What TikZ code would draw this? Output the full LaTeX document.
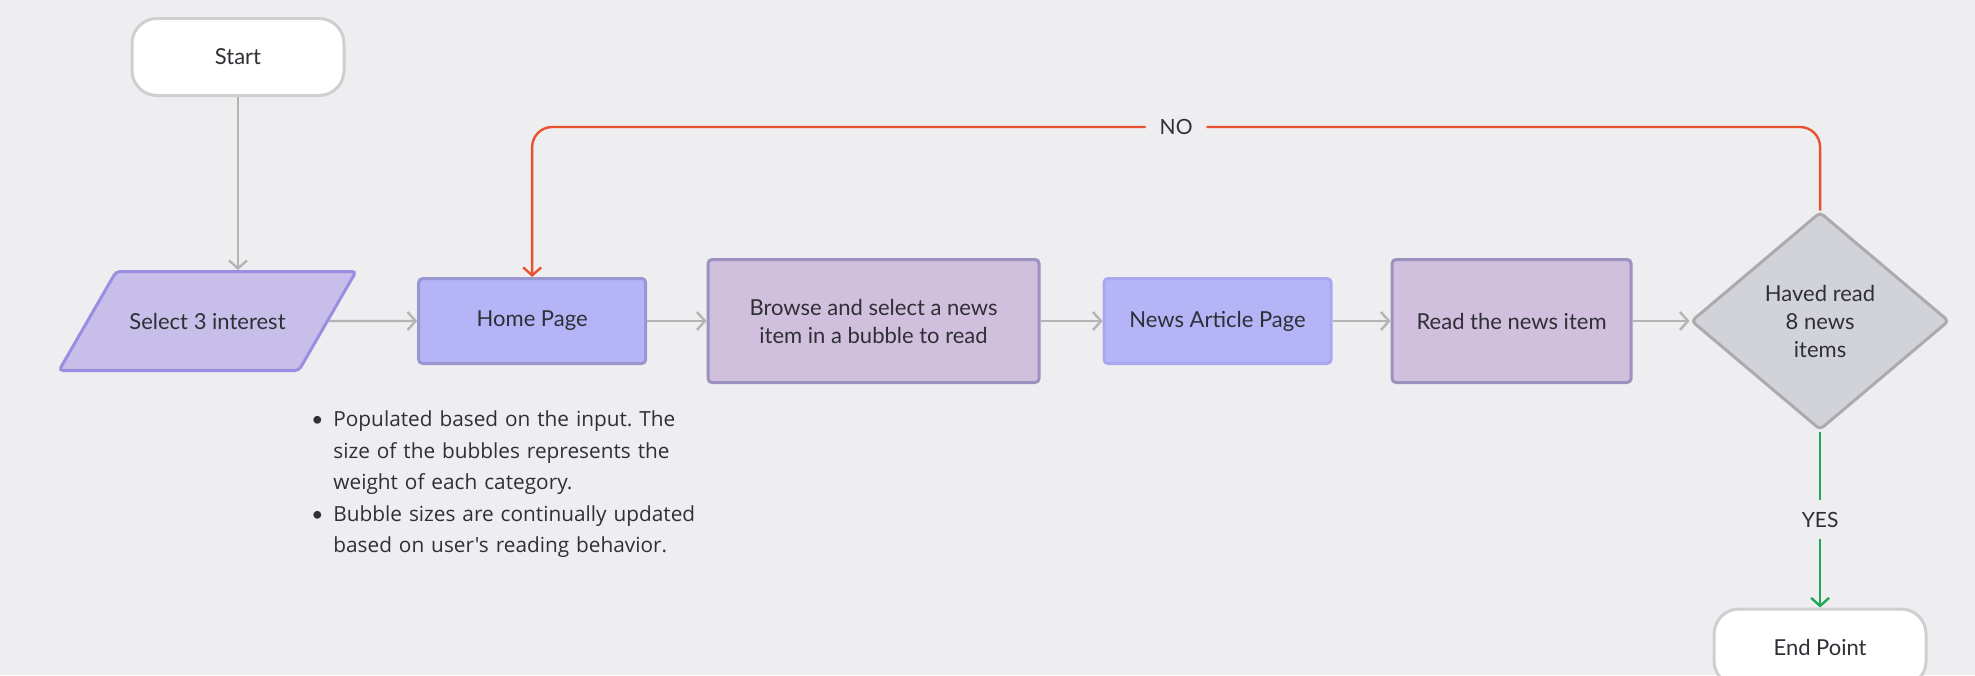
\documentclass[tikz,border=0pt]{standalone}
\usepackage{fontspec}
\setmainfont{Lato}
\newfontfamily\notefont{Open Sans}
\usepackage{enumitem}
\usetikzlibrary{positioning, shapes.geometric, arrows.meta}

\definecolor{bgcol}{HTML}{EEEEF1}
\definecolor{ink}{HTML}{2F2F36}
\definecolor{termline}{HTML}{CFCFD2}
\definecolor{pagefill}{HTML}{B4B4F7}
\definecolor{homeline}{HTML}{9A96CF}
\definecolor{newsline}{HTML}{A8A8F0}
\definecolor{taskfill}{HTML}{D0BFDD}
\definecolor{taskline}{HTML}{9D92BF}
\definecolor{iofill}{HTML}{C7BFE9}
\definecolor{ioline}{HTML}{9C8DE2}
\definecolor{checkfill}{HTML}{D2D3D8}
\definecolor{checkline}{HTML}{ABABAF}
\definecolor{flowgray}{HTML}{B4B4B4}
\definecolor{nored}{HTML}{E8522F}
\definecolor{yesgreen}{HTML}{1FA85A}

\begin{document}
\begin{tikzpicture}[
    x=1pt, y=1pt,
    font=\fontsize{11pt}{14pt}\selectfont, text=ink,
    term/.style = {rectangle, rounded corners=12.5pt, draw=termline, line width=1.5pt,
                   fill=white, minimum width=106pt, minimum height=38.5pt},
    page/.style = {rectangle, rounded corners=2pt, line width=1.5pt, fill=pagefill,
                   minimum width=113.5pt, minimum height=42.5pt},
    task/.style = {rectangle, rounded corners=2pt, line width=1.5pt, draw=taskline,
                   fill=taskfill, minimum width=#1, minimum height=61.5pt, align=center},
    task/.default = 119.5pt,
    io/.style = {trapezium, trapezium left angle=60, trapezium right angle=120,
                 trapezium stretches body, rounded corners=2pt, line width=1.5pt,
                 draw=ioline, fill=iofill, minimum width=148.5pt,
                 text height=8pt, text depth=0pt, inner ysep=20.75pt},
    check/.style = {diamond, draw=checkline, fill=checkfill, line width=1.5pt, rounded corners=2pt,
                    minimum width=129pt, minimum height=109pt, inner sep=0pt, align=center}
    ]
            % styles
            \tikzstyle{arrow} = [line width=1.2pt, -{Straight Barb[length=4pt, width=9pt]}, draw=flowgray]
            \tikzstyle{label} = [fill=bgcol, inner xsep=7pt, inner ysep=6pt, font=\fontsize{10.5pt}{12pt}\selectfont]

            \path [use as bounding box, fill=bgcol] (0,0) rectangle (987.5,-337.5);

            \node (sel) [io] at (103.75,-160.5) {Select 3 interest};
            \node (home) [page, draw=homeline, right=44pt of sel] {Home Page};
            \node (browse) [task=165.5pt, right=29.7pt of home] {Browse and select a news\\item in a bubble to read};
            \node (news) [page, draw=newsline, right=31pt of browse] {News Article Page};
            \node (read) [task, right=29pt of news] {Read the news item};
            \node (check) [check, right=28.5pt of read] {Haved read\\8 news\\items};

            \node (start) [term] at (119,-28.5) {Start};
            \node (end) [term, below=88pt of check] {End Point};
            \coordinate (loop) at (0,-63.5);

            \node (note) [anchor=north west, text width=220pt, inner sep=0pt,
                          font=\notefont\fontsize{10.4pt}{15.75pt}\selectfont] at (157.5,-197.5) {%
                \frenchspacing
                \begin{itemize}[leftmargin=9pt, labelsep=5pt, itemsep=0pt, topsep=0pt, parsep=0pt, partopsep=0pt]
                    \item Populated based on the input. The\newline size of the bubbles represents the\newline weight of each category.
                    \item Bubble sizes are continually updated\newline based on user's reading behavior.
                \end{itemize}};

            \draw [arrow] (start) -- (start |- sel.north);
            \draw [arrow] (sel) -- (home);
            \draw [arrow] (home) -- (browse);
            \draw [arrow] (browse) -- (news);
            \draw [arrow] (news) -- (read);
            \draw [arrow] (read) -- (check);
            \draw [arrow, draw=nored, rounded corners=10pt] (check.north) -- (check.north |- loop)
                -- (home.north |- loop) node[midway, label] {NO} -- (home.north);
            \draw [arrow, draw=yesgreen] (check.south) -- (end.north) node[midway, label] {YES};
    \end{tikzpicture}
\end{document}
